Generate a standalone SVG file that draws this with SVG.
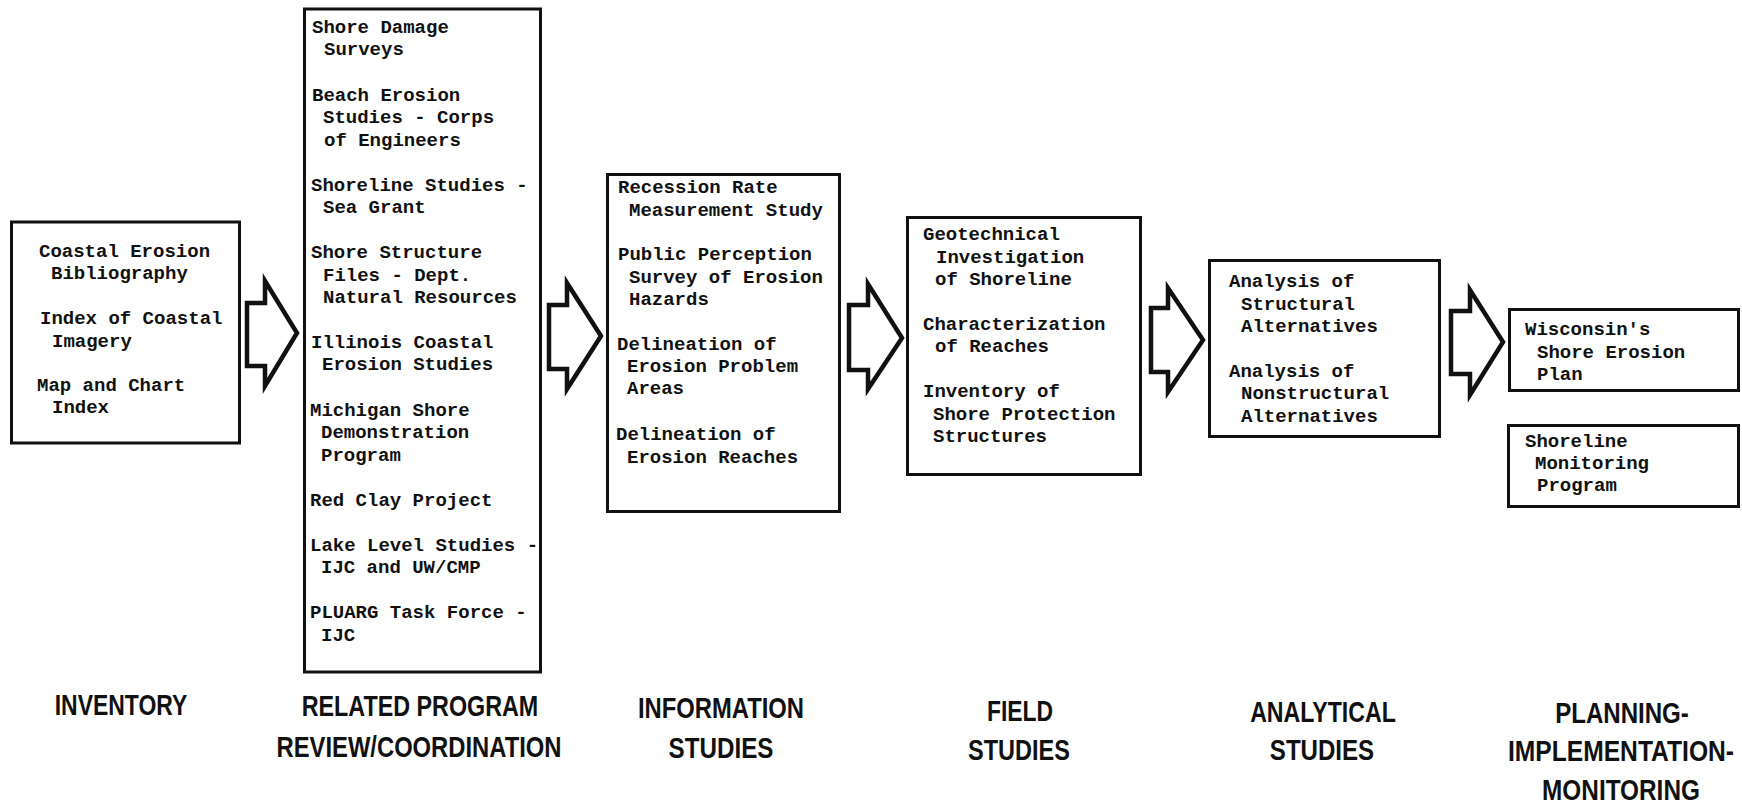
<svg xmlns="http://www.w3.org/2000/svg" width="1742" height="808" viewBox="0 0 1742 808">
<style>
.box{fill:#fff;stroke:#111;stroke-width:3}
.t{font-family:"Liberation Mono","DejaVu Sans Mono",monospace;font-size:19px;font-weight:bold;fill:#111}
.arr{fill:#fff;stroke:#111;stroke-width:4.5;stroke-linejoin:miter;stroke-miterlimit:10}
.lab{font-family:"Liberation Sans","DejaVu Sans",sans-serif;font-size:30px;font-weight:bold;fill:#111;text-anchor:middle}
</style>
<rect width="1742" height="808" fill="#fff"/>
<g id="connectors">
<polygon class="arr" points="247,303 265,303 265,281 297,333 265,386 265,366 247,366"/>
<polygon class="arr" points="549,305 567,305 567,283 601,336 567,389 567,369 549,369"/>
<polygon class="arr" points="849,305 868,305 868,284 902,338 868,389 868,370 849,370"/>
<polygon class="arr" points="1151,308 1168,308 1168,288 1203,340 1168,392 1168,372 1151,372"/>
<polygon class="arr" points="1451,311 1470,311 1470,290 1503,342 1470,395 1470,374 1451,374"/>
</g>
<g id="inventory">
<rect class="box" x="11.5" y="222" width="228" height="221"/>
<text class="t" x="39" y="257">Coastal Erosion</text>
<text class="t" x="51" y="279">Bibliography</text>
<text class="t" x="40" y="324">Index of Coastal</text>
<text class="t" x="52" y="347">Imagery</text>
<text class="t" x="37" y="391">Map and Chart</text>
<text class="t" x="52" y="413">Index</text>
</g>
<g id="related-program">
<rect class="box" x="304.5" y="9" width="236" height="663"/>
<text class="t" x="312" y="33">Shore Damage</text>
<text class="t" x="324" y="55">Surveys</text>
<text class="t" x="312" y="101">Beach Erosion</text>
<text class="t" x="323" y="123">Studies - Corps</text>
<text class="t" x="324" y="146">of Engineers</text>
<text class="t" x="311" y="191">Shoreline Studies -</text>
<text class="t" x="323" y="213">Sea Grant</text>
<text class="t" x="311" y="258">Shore Structure</text>
<text class="t" x="323" y="281">Files - Dept.</text>
<text class="t" x="323" y="303">Natural Resources</text>
<text class="t" x="311" y="348">Illinois Coastal</text>
<text class="t" x="322" y="370">Erosion Studies</text>
<text class="t" x="310" y="416">Michigan Shore</text>
<text class="t" x="321" y="438">Demonstration</text>
<text class="t" x="321" y="461">Program</text>
<text class="t" x="310" y="506">Red Clay Project</text>
<text class="t" x="310" y="551">Lake Level Studies -</text>
<text class="t" x="321" y="573">IJC and UW/CMP</text>
<text class="t" x="310" y="618">PLUARG Task Force -</text>
<text class="t" x="321" y="641">IJC</text>
</g>
<g id="information-studies">
<rect class="box" x="607.5" y="174.5" width="232" height="337"/>
<text class="t" x="618" y="193">Recession Rate</text>
<text class="t" x="629" y="216">Measurement Study</text>
<text class="t" x="618" y="260">Public Perception</text>
<text class="t" x="629" y="283">Survey of Erosion</text>
<text class="t" x="629" y="305">Hazards</text>
<text class="t" x="617" y="350">Delineation of</text>
<text class="t" x="627" y="372">Erosion Problem</text>
<text class="t" x="627" y="394">Areas</text>
<text class="t" x="616" y="440">Delineation of</text>
<text class="t" x="627" y="463">Erosion Reaches</text>
</g>
<g id="field-studies">
<rect class="box" x="907.5" y="217.5" width="233" height="257"/>
<text class="t" x="923" y="240">Geotechnical</text>
<text class="t" x="936" y="263">Investigation</text>
<text class="t" x="935" y="285">of Shoreline</text>
<text class="t" x="923" y="330">Characterization</text>
<text class="t" x="935" y="352">of Reaches</text>
<text class="t" x="923" y="397">Inventory of</text>
<text class="t" x="933" y="420">Shore Protection</text>
<text class="t" x="933" y="442">Structures</text>
</g>
<g id="analytical-studies">
<rect class="box" x="1209.5" y="260.5" width="230" height="176"/>
<text class="t" x="1229" y="287">Analysis of</text>
<text class="t" x="1241" y="310">Structural</text>
<text class="t" x="1241" y="332">Alternatives</text>
<text class="t" x="1229" y="377">Analysis of</text>
<text class="t" x="1241" y="399">Nonstructural</text>
<text class="t" x="1241" y="422">Alternatives</text>
</g>
<g id="shore-erosion-plan">
<rect class="box" x="1509.5" y="309.5" width="229" height="81"/>
<text class="t" x="1525" y="335">Wisconsin's</text>
<text class="t" x="1537" y="358">Shore Erosion</text>
<text class="t" x="1537" y="380">Plan</text>
</g>
<g id="shoreline-monitoring">
<rect class="box" x="1508.5" y="425.5" width="230" height="81"/>
<text class="t" x="1525" y="447">Shoreline</text>
<text class="t" x="1535" y="469">Monitoring</text>
<text class="t" x="1537" y="491">Program</text>
</g>
<g id="stage-labels">
<text class="lab" transform="translate(121,715) scale(0.765,1)">INVENTORY</text>
<text class="lab" transform="translate(420,716) scale(0.777,1)">RELATED PROGRAM</text>
<text class="lab" transform="translate(419,757) scale(0.793,1)">REVIEW/COORDINATION</text>
<text class="lab" transform="translate(721,718) scale(0.793,1)">INFORMATION</text>
<text class="lab" transform="translate(721,758) scale(0.807,1)">STUDIES</text>
<text class="lab" transform="translate(1020,721) scale(0.762,1)">FIELD</text>
<text class="lab" transform="translate(1019,760) scale(0.784,1)">STUDIES</text>
<text class="lab" transform="translate(1323,722) scale(0.772,1)">ANALYTICAL</text>
<text class="lab" transform="translate(1322,760) scale(0.803,1)">STUDIES</text>
<text class="lab" transform="translate(1622,723) scale(0.803,1)">PLANNING-</text>
<text class="lab" transform="translate(1621,761) scale(0.821,1)">IMPLEMENTATION-</text>
<text class="lab" transform="translate(1621,800) scale(0.812,1)">MONITORING</text>
</g>
</svg>
